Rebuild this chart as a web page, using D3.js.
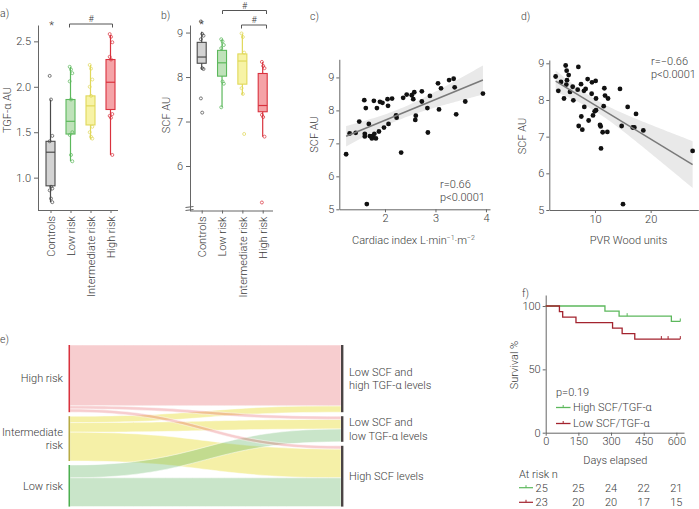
<!DOCTYPE html>
<html><head><meta charset="utf-8">
<script src="https://cdn.jsdelivr.net/npm/d3@7"></script>
<style>
body{margin:0;background:#fff;}
svg{font-family:Roboto,"DejaVu Sans",sans-serif;font-weight:300;}
text{fill:#3a3a3a;}
.axis path,.axis line{stroke:#666;stroke-width:1;}
.axis text{fill:#3a3a3a;font-size:11px;font-family:Roboto,"DejaVu Sans",sans-serif;font-weight:300;}
</style></head><body>
<svg id="chart" width="699" height="509"></svg>
<script>
// ---------------- DATA ----------------
const groups = ["Controls","Low risk","Intermediate risk","High risk"];
const groupStroke = ["#4a4a4a","#5cb85c","#e0d85a","#d9323e"];
const groupFill = ["#d3d3d3","#bfe2ba","#f7f3a6","#f5a3a7"];

const tgfQ1  = [0.91,1.48,1.58,1.75];
const tgfMed = [1.28,1.62,1.79,2.05];
const tgfQ3  = [1.40,1.86,1.90,2.30];
const tgfLo  = [0.73,1.18,1.42,1.25];
const tgfHi  = [1.86,2.22,2.24,2.57];
const tgfPoints = [
  [2.12,1.86,1.46,1.40,0.90,0.88,0.86,0.77,0.73],
  [2.22,2.19,2.15,2.06,1.86,1.50,1.47,1.25,1.18],
  [2.24,2.20,2.08,2.00,1.90,1.56,1.50,1.45,1.43],
  [2.58,2.55,2.49,2.33,2.30,1.70,1.68,1.66,1.25]
];
const tgfTicks = [1.0,1.5,2.0,2.5];

const scfQ1  = [8.31,8.02,7.84,7.22];
const scfMed = [8.45,8.32,8.36,7.36];
const scfQ3  = [8.78,8.60,8.52,8.08];
const scfLo  = [8.17,7.32,7.60,6.66];
const scfHi  = [9.02,8.85,8.98,8.34];
const scfPoints = [
  [9.25,8.97,8.93,8.85,8.20,8.18,7.52,7.20],
  [8.85,8.80,8.72,8.65,7.90,7.85,7.32],
  [8.98,8.90,8.55,7.75,7.62,6.72],
  [8.34,8.25,8.20,7.15,7.10,6.66,5.18]
];
const scfTicks = [6,7,8,9];

const ciX = [1.23,1.30,1.42,1.49,1.59,1.60,1.60,1.62,1.64,1.68,1.70,1.74,1.76,1.78,1.79,1.82,1.84,1.88,1.90,1.95,1.98,2.05,2.06,2.07,2.14,2.22,2.23,2.32,2.36,2.43,2.53,2.56,2.58,2.61,2.60,2.73,2.73,2.84,2.85,2.89,3.05,3.07,3.11,3.27,3.36,3.38,3.41,3.59,3.94];
const ciY = [6.67,7.30,7.32,7.66,8.31,7.29,7.21,8.07,5.16,7.59,7.22,7.15,7.23,8.29,7.29,7.15,8.07,7.36,8.26,8.23,7.48,8.34,8.14,7.59,8.36,7.85,7.78,6.72,8.38,8.48,8.46,8.34,8.55,7.84,7.71,8.58,8.27,8.07,7.33,8.44,8.82,8.03,8.67,8.92,8.96,8.70,7.88,8.27,8.51];

const pvrX = [2.93,3.41,3.89,4.43,4.73,4.85,4.91,4.97,5.27,5.51,5.99,6.11,6.89,7.01,7.07,7.49,7.54,7.72,8.02,8.08,8.32,8.68,8.86,9.40,9.46,9.64,9.94,10.18,10.12,10.18,10.90,11.02,11.08,11.38,11.56,11.68,11.80,12.22,12.34,14.49,14.79,15.03,15.87,16.77,17.07,17.37,18.68,27.54];
const pvrY = [8.64,8.25,8.49,8.04,8.94,8.42,8.80,8.54,8.68,8.22,8.36,7.99,8.28,8.90,7.29,8.43,7.55,7.19,8.25,7.81,8.30,8.57,7.44,8.17,8.48,7.58,7.69,7.72,8.52,8.04,7.32,7.28,6.68,7.12,7.83,8.32,8.12,7.13,8.04,8.30,7.29,5.16,7.81,7.25,7.25,7.62,7.17,6.61];

const sankeyLeft = ["High risk","Intermediate risk","Low risk"];
const sankeyLeftLines = [["High risk"],["Intermediate","risk"],["Low risk"]];
const sankeyRightLines = [["Low SCF and","high TGF-\u03b1 levels"],["Low SCF and","low TGF-\u03b1 levels"],["High SCF levels"]];
const flowSource = [1,1,1,2,2,0,0,0];
const flowTarget = [0,1,2,1,2,0,1,2];
const flowCount  = [2,3,9,4,9,19,1,1];
const sankeyLinkColor = ["rgba(230,90,95,0.30)","rgba(232,222,60,0.45)","rgba(100,180,100,0.35)"];
const sankeyNodeColor = ["#d9323e","#b8ab45","#4caf50"];

const kmGroups = ["High SCF/TGF-\u03b1","Low SCF/TGF-\u03b1"];
const kmN = [25,23];
const kmEventTimes = [[272,337,577],[63,78,139,307,351,409]];
const kmCensorTimes = [[374,618],[531,562,618]];
const kmColors = ["#5cb85c","#a3232e"];
const riskTimes = [0,150,300,450,600];
const atRisk = [[25,25,24,22,21],[23,20,20,17,15]];

// ---------------- DRAW ----------------
const svg = d3.select("#chart");
function txt(x,y,s,o={}){
  const t = svg.append("text").attr("x",x).attr("y",y).attr("dy","0.35em")
    .attr("font-size",o.size||11).attr("text-anchor",o.anchor||"start").text(s);
  if(o.rotate) t.attr("transform",`rotate(-90,${x},${y})`);
  return t;
}
function panelLabel(x,y,s){ txt(x,y,s,{size:10.5}); }

function boxPanel(opt){
  const {x,y,q1,med,q3,lo,hi,pts,axisLeftX,axisRight,ticks,fmt} = opt;
  svg.append("g").attr("class","axis").attr("transform",`translate(${axisLeftX},0)`)
    .call(d3.axisLeft(y).tickValues(ticks).tickFormat(fmt).tickSize(4).tickPadding(3).tickSizeOuter(0));
  const xa = svg.append("g").attr("class","axis").attr("transform",`translate(0,${y.range()[0]})`)
    .call(d3.axisBottom(x).tickSize(3).tickSizeOuter(0));
  xa.select(".domain").attr("d",`M${axisLeftX},0.5H${axisRight}`);
  xa.selectAll(".tick text").attr("transform","rotate(-90)").attr("text-anchor","end")
    .attr("x",-6).attr("y",0).attr("dy","0.35em");
  const bw = 9;
  groups.forEach((gname,i)=>{
    const cx = x(gname);
    const g = svg.append("g");
    g.append("line").attr("x1",cx).attr("x2",cx).attr("y1",y(lo[i])).attr("y2",y(hi[i]))
      .attr("stroke",groupStroke[i]).attr("stroke-width",1.2);
    g.append("rect").attr("x",cx-bw/2).attr("width",bw).attr("y",y(q3[i])).attr("height",y(q1[i])-y(q3[i]))
      .attr("fill",groupFill[i]).attr("stroke",groupStroke[i]).attr("stroke-width",1.1);
    g.append("line").attr("x1",cx-bw/2).attr("x2",cx+bw/2).attr("y1",y(med[i])).attr("y2",y(med[i]))
      .attr("stroke",groupStroke[i]).attr("stroke-width",1.2);
    g.selectAll("circle").data(pts[i]).join("circle")
      .attr("cx",(d,j)=>cx+((j%3)-1)*1.3+0.5).attr("cy",d=>y(d)).attr("r",1.5)
      .attr("fill","none").attr("stroke",groupStroke[i]).attr("stroke-width",0.8).attr("opacity",0.9);
  });
}
function bracket(x1,x2,y,label){
  svg.append("path").attr("d",`M${x1},${y+3.5}V${y}H${x2}V${y+3.5}`).attr("fill","none").attr("stroke","#555").attr("stroke-width",1);
  txt((x1+x2)/2,y-5,label,{size:9,anchor:"middle"});
}

// Panel a
const xA = d3.scalePoint().domain(groups).range([50.5,110.5]);
const yA = d3.scaleLinear().domain([0.644,2.68]).range([210,25]);
boxPanel({x:xA,y:yA,q1:tgfQ1,med:tgfMed,q3:tgfQ3,lo:tgfLo,hi:tgfHi,pts:tgfPoints,axisLeftX:38,axisRight:118,ticks:tgfTicks,fmt:d3.format(".1f")});
panelLabel(0,13,"a)");
txt(7,110,"TGF-\u03b1 AU",{rotate:true,anchor:"middle"});
txt(xA("Controls")+1,25,"*",{size:11,anchor:"middle"});
bracket(69.5,112.5,24,"#");

// Panel b
const xB = d3.scalePoint().domain(groups).range([201.7,262.7]);
const yB = d3.scaleLinear().domain([5.0,9.17]).range([210.5,25]);
boxPanel({x:xB,y:yB,q1:scfQ1,med:scfMed,q3:scfQ3,lo:scfLo,hi:scfHi,pts:scfPoints,axisLeftX:190,axisRight:273,ticks:scfTicks,fmt:d3.format("d")});
panelLabel(161,15,"b)");
txt(166,115,"SCF AU",{rotate:true,anchor:"middle"});
txt(xB("Controls"),24,"*",{size:11,anchor:"middle"});
bracket(222.5,266.5,10.5,"#");
bracket(241.5,266.5,25,"#");
svg.append("path").attr("d","M185.5,207.5L193.5,206.5M185.5,210.5L193.5,209.5").attr("stroke","#666").attr("stroke-width",1);

// regression helper
function regress(xs,ys){
  const n=xs.length, mx=d3.mean(xs), my=d3.mean(ys);
  let sxx=0,sxy=0; xs.forEach((v,i)=>{sxx+=(v-mx)*(v-mx); sxy+=(v-mx)*(ys[i]-my);});
  const b=sxy/sxx, a=my-b*mx;
  let sse=0; xs.forEach((v,i)=>{const r=ys[i]-(a+b*v); sse+=r*r;});
  const s=Math.sqrt(sse/(n-2)), t=2.012;
  const [x0,x1]=d3.extent(xs);
  const band=d3.range(0,61).map(k=>{const xv=x0+(x1-x0)*k/60; const se=s*Math.sqrt(1/n+(xv-mx)*(xv-mx)/sxx); const f=a+b*xv; return {x:xv,lo:f-t*se,hi:f+t*se};});
  return {a,b,x0,x1,band};
}
function scatterPanel(o){
  const {x,y,xs,ys,xTicks,yTicks} = o;
  const r = regress(xs,ys);
  svg.append("path").datum(r.band).attr("fill","#e9e9e9")
    .attr("d",d3.area().x(d=>x(d.x)).y0(d=>y(d.lo)).y1(d=>y(d.hi)));
  svg.append("g").attr("class","axis").attr("transform",`translate(${x.range()[0]},0)`)
    .call(d3.axisLeft(y).tickValues(yTicks).tickFormat(d3.format("d")).tickSize(3).tickPadding(2).tickSizeOuter(0));
  svg.append("g").attr("class","axis").attr("transform",`translate(0,${y.range()[0]})`)
    .call(d3.axisBottom(x).tickValues(xTicks).tickFormat(d3.format("d")).tickSize(3).tickPadding(2).tickSizeOuter(0));
  svg.append("g").selectAll("circle").data(xs).join("circle")
    .attr("cx",d=>x(d)).attr("cy",(d,i)=>y(ys[i])).attr("r",2.4).attr("fill","#111");
  svg.append("line").attr("x1",x(r.x0)).attr("x2",x(r.x1)).attr("y1",y(r.a+r.b*r.x0)).attr("y2",y(r.a+r.b*r.x1))
    .attr("stroke","#7a7a7a").attr("stroke-width",1.5);
}
// Panel c
const xC = d3.scaleLinear().domain([1.095,4.08]).range([339.3,490]);
const yC = d3.scaleLinear().domain([5,9.55]).range([209.3,59.3]);
scatterPanel({x:xC,y:yC,xs:ciX,ys:ciY,xTicks:[2,3,4],yTicks:[5,6,7,8,9]});
panelLabel(310,16.5,"c)");
txt(314,134.5,"SCF AU",{rotate:true,anchor:"middle"});
{
  const t = svg.append("text").attr("x",413.5).attr("y",240).attr("dy","0.35em").attr("font-size",11).attr("text-anchor","middle");
  t.append("tspan").text("Cardiac index L\u00b7min");
  t.append("tspan").attr("font-size",7).attr("dy","-4").text("\u22121");
  t.append("tspan").attr("dy","4").text("\u00b7m");
  t.append("tspan").attr("font-size",7).attr("dy","-4").text("\u22122");
}
txt(440,184,"r=0.66");
txt(440,197,"p<0.0001");

// Panel d
const xD = d3.scaleLinear().domain([1.79,28.56]).range([549.3,698.3]);
const yD = d3.scaleLinear().domain([5,9.09]).range([210,60]);
scatterPanel({x:xD,y:yD,xs:pvrX,ys:pvrY,xTicks:[10,20],yTicks:[5,6,7,8,9]});
panelLabel(521,16,"d)");
txt(522,136,"SCF AU",{rotate:true,anchor:"middle"});
txt(628.5,240,"PVR Wood units",{anchor:"middle"});
txt(651,61,"r=\u22120.66");
txt(651,74,"p<0.0001");

// Panel e: alluvial
panelLabel(0,339,"e)");
{
  const k = 3.2, gap = 4, top = 345, xL = 70, xR = 341;
  const leftTot = [0,0,0], rightTot=[0,0,0];
  flowCount.forEach((c,i)=>{leftTot[flowSource[i]]+=c; rightTot[flowTarget[i]]+=c;});
  const leftY=[], rightY=[];
  let yy=top; leftTot.forEach((t,i)=>{leftY.push(yy); yy+=t*k+gap;});
  yy=top; rightTot.forEach((t,i)=>{rightY.push(yy); yy+=t*k+gap;});
  const idx = d3.range(flowCount.length);
  const sOff={}, tOff={};
  [0,1,2].forEach(s=>{let o=leftY[s]; idx.filter(i=>flowSource[i]===s).sort((a,b)=>flowTarget[a]-flowTarget[b]).forEach(i=>{sOff[i]=o; o+=flowCount[i]*k;});});
  [0,1,2].forEach(t=>{let o=rightY[t]; idx.filter(i=>flowTarget[i]===t).sort((a,b)=>flowSource[a]-flowSource[b]).forEach(i=>{tOff[i]=o; o+=flowCount[i]*k;});});
  const xm=(xL+xR)/2;
  idx.forEach(i=>{
    const h=flowCount[i]*k, y0=sOff[i], y1=tOff[i];
    svg.append("path").attr("d",`M${xL},${y0}C${xm},${y0} ${xm},${y1} ${xR},${y1}L${xR},${y1+h}C${xm},${y1+h} ${xm},${y0+h} ${xL},${y0+h}Z`)
      .attr("fill",sankeyLinkColor[flowSource[i]]).attr("stroke","#fff").attr("stroke-width",0.5);
  });
  leftTot.forEach((t,i)=>{
    svg.append("rect").attr("x",xL-1.5).attr("width",1.6).attr("y",leftY[i]).attr("height",t*k).attr("fill",sankeyNodeColor[i]);
    const lines=sankeyLeftLines[i]; const cy=leftY[i]+t*k/2;
    lines.forEach((l,j)=>txt(63,cy+(j-(lines.length-1)/2)*13.4,l,{anchor:"end"}));
  });
  rightTot.forEach((t,i)=>{
    svg.append("rect").attr("x",xR).attr("width",2.4).attr("y",rightY[i]).attr("height",t*k).attr("fill","#4a4444");
    const lines=sankeyRightLines[i]; const cy=rightY[i]+t*k/2;
    lines.forEach((l,j)=>txt(349,cy+(j-(lines.length-1)/2)*13.4,l));
  });
}

// Panel f: Kaplan-Meier
{
  const x = d3.scaleLinear().domain([0,635]).range([545.7,684]);
  const y = d3.scaleLinear().domain([0,108.7]).range([432.7,295]);
  svg.append("g").attr("class","axis").attr("transform","translate(545.7,0)")
    .call(d3.axisLeft(y).tickValues([0,50,100]).tickSize(3).tickPadding(2).tickSizeOuter(0));
  svg.append("g").attr("class","axis").attr("transform","translate(0,432.7)")
    .call(d3.axisBottom(x).tickValues(riskTimes).tickSize(3).tickPadding(2).tickSizeOuter(0));
  panelLabel(522,293,"f)");
  txt(514,365,"Survival %",{rotate:true,anchor:"middle"});
  txt(615.3,460,"Days elapsed",{anchor:"middle"});
  kmGroups.forEach((gname,gi)=>{
    const ev = kmEventTimes[gi].map(t=>({t,e:1})), ce = kmCensorTimes[gi].map(t=>({t,e:0}));
    const all = ev.concat(ce).sort((a,b)=>a.t-b.t || b.e-a.e);
    let nr = kmN[gi], S = 100; const pts=[[0,100]], ticks=[];
    all.forEach(d=>{ if(d.e){ S = S*(nr-1)/nr; pts.push([d.t,S]); } else { ticks.push([d.t,S]); } nr--; });
    pts.push([d3.max(all,d=>d.t),S]);
    svg.append("path").datum(pts).attr("fill","none").attr("stroke",kmColors[gi]).attr("stroke-width",1.3)
      .attr("d",d3.line().x(d=>x(d[0])).y(d=>y(d[1])).curve(d3.curveStepAfter));
    ticks.forEach(d=>svg.append("line").attr("x1",x(d[0])).attr("x2",x(d[0])).attr("y1",y(d[1])-3).attr("y2",y(d[1]))
      .attr("stroke",kmColors[gi]).attr("stroke-width",1));
    const ly = [407.5,423.5][gi];
    svg.append("line").attr("x1",556).attr("x2",570.5).attr("y1",ly).attr("y2",ly).attr("stroke",kmColors[gi]).attr("stroke-width",1.3);
    svg.append("line").attr("x1",563.2).attr("x2",563.2).attr("y1",ly-2.5).attr("y2",ly).attr("stroke",kmColors[gi]).attr("stroke-width",1);
    txt(573,ly,gname);
    const ry = [487.7,502.3][gi];
    svg.append("line").attr("x1",519).attr("x2",533).attr("y1",ry).attr("y2",ry).attr("stroke",kmColors[gi]).attr("stroke-width",1.2);
    svg.append("line").attr("x1",526).attr("x2",526).attr("y1",ry-2.5).attr("y2",ry).attr("stroke",kmColors[gi]).attr("stroke-width",1);
    atRisk[gi].forEach((v,j)=>txt(j===0?x(riskTimes[j])-4:x(riskTimes[j]),ry,v,{anchor:"middle"}));
  });
  txt(556,392,"p=0.19");
  txt(519,474.5,"At risk n");
}
</script>
</body></html>
